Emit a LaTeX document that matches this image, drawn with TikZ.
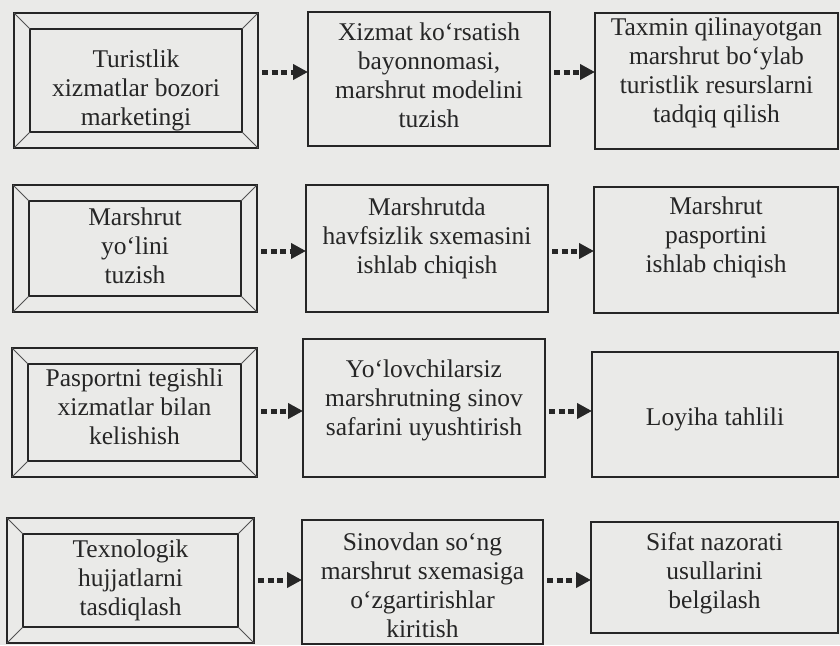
\documentclass[tikz,border=0pt]{standalone}
\usepackage{fontspec}
\setmainfont{Liberation Serif}
\usetikzlibrary{arrows.meta}
\definecolor{paper}{RGB}{234,234,232}
\definecolor{ink}{RGB}{38,38,38}
\begin{document}
\begin{tikzpicture}[x=1pt,y=-1pt,
  stepbox/.style={draw=ink, line width=1.6pt, inner sep=0pt, outer sep=0pt},
  bevelline/.style={draw=ink!80, line width=1pt},
  txt/.style={align=center, inner sep=0pt, text=ink,
    font=\fontsize{25.5}{29}\selectfont},
  flow/.style={draw=ink, line width=5pt, dash pattern=on 6pt off 3.5pt,
    shorten <=4pt, -{Triangle[length=15pt,width=15pt]}}]

% paper
\fill[paper] (0,0) rectangle (840,645);
\useasboundingbox (0,0) rectangle (840,645);

% row 1
\node[stepbox, minimum width=244pt, minimum height=135pt] (a1) at (136,80.5) {};
\node[stepbox, minimum width=242pt, minimum height=134pt] (b1) at (429,79) {};
\node[stepbox, minimum width=243pt, minimum height=136pt] (c1) at (716.5,81) {};
% row 2
\node[stepbox, minimum width=244pt, minimum height=127pt] (a2) at (135,248.5) {};
\node[stepbox, minimum width=242pt, minimum height=127pt] (b2) at (427,248.5) {};
\node[stepbox, minimum width=244pt, minimum height=126pt] (c2) at (716,250) {};
% row 3
\node[stepbox, minimum width=245pt, minimum height=129pt] (a3) at (134.5,412.5) {};
\node[stepbox, minimum width=242pt, minimum height=138pt] (b3) at (424,408) {};
\node[stepbox, minimum width=246pt, minimum height=125pt] (c3) at (715,414.5) {};
% row 4
\node[stepbox, minimum width=247pt, minimum height=125pt] (a4) at (130.5,580.5) {};
\node[stepbox, minimum width=241pt, minimum height=124pt] (b4) at (422.5,582) {};
\node[stepbox, minimum width=247pt, minimum height=111pt] (c4) at (714.5,577.5) {};

% bevelled frames of the first column
\foreach \n in {a1,a2,a3,a4}{
  \draw[stepbox] ([shift={(16pt,-16pt)}]\n.north west) rectangle ([shift={(-16pt,16pt)}]\n.south east);
  \draw[bevelline] (\n.north west) -- ([shift={(16pt,-16pt)}]\n.north west);
  \draw[bevelline] (\n.north east) -- ([shift={(-16pt,-16pt)}]\n.north east);
  \draw[bevelline] (\n.south west) -- ([shift={(16pt,16pt)}]\n.south west);
  \draw[bevelline] (\n.south east) -- ([shift={(-16pt,16pt)}]\n.south east);
}

% texts
\node[txt, yshift=-10pt] (a1t) at (a1.center) {Turistlik\\xizmatlar bozori\\marketingi};
\node[txt, yshift=4pt]  (b1t) at (b1.center) {Xizmat ko‘rsatish\\bayonnomasi,\\marshrut modelini\\tuzish};
\node[txt, yshift=8pt]  (c1t) at (c1.center) {Taxmin qilinayotgan\\marshrut bo‘ylab\\turistlik resurslarni\\tadqiq qilish};

\node[txt, yshift=3pt]  (a2t) at (a2.center) {Marshrut\\yo‘lini\\tuzish};
\node[txt, yshift=10pt] (b2t) at (b2.center) {Marshrutda\\havfsizlik sxemasini\\ishlab chiqish};
\node[txt, yshift=13pt] (c2t) at (c2.center) {Marshrut\\pasportini\\ishlab chiqish};

\node[txt, yshift=6pt]  (a3t) at (a3.center) {Pasportni tegishli\\xizmatlar bilan\\kelishish};
\node[txt, yshift=8pt]  (b3t) at (b3.center) {Yo‘lovchilarsiz\\marshrutning sinov\\safarini uyushtirish};
\node[txt, yshift=-5pt] (c3t) at (c3.center) {Loyiha tahlili};

\node[txt]              (a4t) at (a4.center) {Texnologik\\hujjatlarni\\tasdiqlash};
\node[txt, yshift=-3pt] (b4t) at (b4.center) {Sinovdan so‘ng\\marshrut sxemasiga\\o‘zgartirishlar\\kiritish};
\node[txt, yshift=4pt]  (c4t) at (c4.center) {Sifat nazorati\\usullarini\\belgilash};

% connectors
\coordinate (y1) at (0,72);
\coordinate (y2) at (0,251);
\coordinate (y3) at (0,411);
\coordinate (y4) at (0,580);
\draw[flow] (a1.east |- y1) -- (b1.west |- y1);
\draw[flow] (b1.east |- y1) -- (c1.west |- y1);
\draw[flow] (a2.east |- y2) -- (b2.west |- y2);
\draw[flow] (b2.east |- y2) -- (c2.west |- y2);
\draw[flow] (a3.east |- y3) -- (b3.west |- y3);
\draw[flow] (b3.east |- y3) -- (c3.west |- y3);
\draw[flow] (a4.east |- y4) -- (b4.west |- y4);
\draw[flow] (b4.east |- y4) -- (c4.west |- y4);
\end{tikzpicture}
\end{document}
